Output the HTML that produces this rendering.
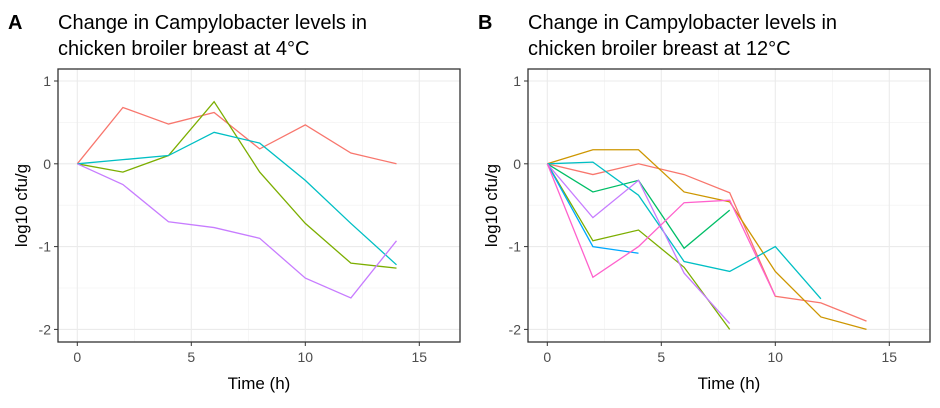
<!DOCTYPE html>
<html><head><meta charset="utf-8"><style>
body{margin:0;background:#fff;font-family:"Liberation Sans",Arial,sans-serif}
svg text{font-family:"Liberation Sans",Arial,sans-serif}
</style></head><body>
<svg id="chart" width="940" height="403" xmlns="http://www.w3.org/2000/svg"></svg>
<script>
const xTicks=[0,5,10,15];
const yTicks=[1,0,-1,-2];
const timesA=[0,2,4,6,8,10,12,14];
const seriesA1=[0,0.68,0.48,0.62,0.18,0.47,0.13,0.0];
const seriesA2=[0,-0.1,0.1,0.75,-0.1,-0.72,-1.2,-1.26];
const seriesA3=[0,0.05,0.1,0.38,0.25,-0.2,-0.72,-1.22];
const seriesA4=[0,-0.25,-0.7,-0.77,-0.9,-1.38,-1.62,-0.93];
const seriesB1=[0,-0.13,0,-0.13,-0.35,-1.6,-1.68,-1.9];
const seriesB2=[0,0.17,0.17,-0.34,-0.46,-1.3,-1.85,-2.0];
const seriesB3=[0,-0.93,-0.8,-1.25,-2.0];
const seriesB4=[0,-0.34,-0.2,-1.02,-0.56];
const seriesB5=[0,0.02,-0.38,-1.18,-1.3,-1.0,-1.63];
const seriesB6=[0,-1.0,-1.08];
const seriesB7=[0,-0.65,-0.2,-1.32,-1.93];
const seriesB8=[0,-1.37,-1.0,-0.47,-0.44,-1.6];
const colorsA=["#F8766D","#7CAE00","#00BFC4","#C77CFF"];
const colorsB=["#F8766D","#CD9600","#7CAE00","#00BE67","#00BFC4","#00A9FF","#C77CFF","#FF61CC"];
const NS="http://www.w3.org/2000/svg";
const svg=document.getElementById('chart');
function mk(tag,attrs,parent){const e=document.createElementNS(NS,tag);for(const k in attrs)e.setAttribute(k,attrs[k]);(parent||svg).appendChild(e);return e;}
function panel(off,letter,title2,series,colors,key){
  const g=mk('g',{});
  
  
  const L=58+off,R=460+off,T=69,B=342;
  const sx=v=>77.3+off+v*22.8;
  const sy=v=>163.8-v*82.8;
  for(let v=2.5;v<=17.5;v+=5){if(sx(v)<R){const l=mk('line',{x1:sx(v),x2:sx(v),y1:T,y2:B,stroke:'#f0f0f0','stroke-width':0.6},g);}}
  for(let v=-1.5;v<=0.5;v+=1){const l=mk('line',{x1:L,x2:R,y1:sy(v),y2:sy(v),stroke:'#f0f0f0','stroke-width':0.6},g);}
  xTicks.forEach(v=>{
    const l=mk('line',{x1:sx(v),x2:sx(v),y1:T,y2:B,stroke:'#ebebeb','stroke-width':1.1},g);
    
    
    mk('line',{x1:sx(v),x2:sx(v),y1:B,y2:B+4,stroke:'#333','stroke-width':1},g);
    const t=mk('text',{x:sx(v),y:B+20,'text-anchor':'middle','font-size':14,fill:'#4d4d4d'},g);
    t.textContent=v;
    
    
  });
  yTicks.forEach(v=>{
    const l=mk('line',{x1:L,x2:R,y1:sy(v),y2:sy(v),stroke:'#ebebeb','stroke-width':1.1},g);
    
    
    mk('line',{x1:L-4,x2:L,y1:sy(v),y2:sy(v),stroke:'#333','stroke-width':1},g);
    const t=mk('text',{x:L-7,y:sy(v)+5,'text-anchor':'end','font-size':14,fill:'#4d4d4d'},g);
    t.textContent=v;
    
    
  });
  series.forEach((s,i)=>{
    const pts=s.map((v,j)=>sx(timesA[j])+','+sy(v)).join(' ');
    const p=mk('polyline',{points:pts,fill:'none',stroke:colors[i],'stroke-width':1.3},g);
    
    
  });
  const fr=mk('rect',{x:L,y:T,width:R-L,height:B-T,fill:'none',stroke:'#333','stroke-width':1.3},g);
  
  
  const a=mk('text',{x:8+off,y:29,'font-size':20,'font-weight':'bold',fill:'#000'},g);
  a.textContent=letter;
  
  
  const t1=mk('text',{x:58+off,y:29,'font-size':20,fill:'#000'},g);
  t1.textContent='Change in Campylobacter levels in';
  
  
  const t2=mk('text',{x:58+off,y:55,'font-size':20,fill:'#000'},g);
  t2.textContent=title2;
  
  
  const xt=mk('text',{x:(L+R)/2,y:389,'text-anchor':'middle','font-size':17,fill:'#000'},g);
  xt.textContent='Time (h)';
  
  
  const yt=mk('text',{x:0,y:0,'text-anchor':'middle','font-size':17,fill:'#000',transform:`translate(${27+off},${(T+B)/2}) rotate(-90)`},g);
  yt.textContent='log10 cfu/g';
  
  
}
panel(0,'A','chicken broiler breast at 4°C',[seriesA1,seriesA2,seriesA3,seriesA4],colorsA,'a');
panel(470,'B','chicken broiler breast at 12°C',[seriesB1,seriesB2,seriesB3,seriesB4,seriesB5,seriesB6,seriesB7,seriesB8],colorsB,'b');
</script>
</body></html>
